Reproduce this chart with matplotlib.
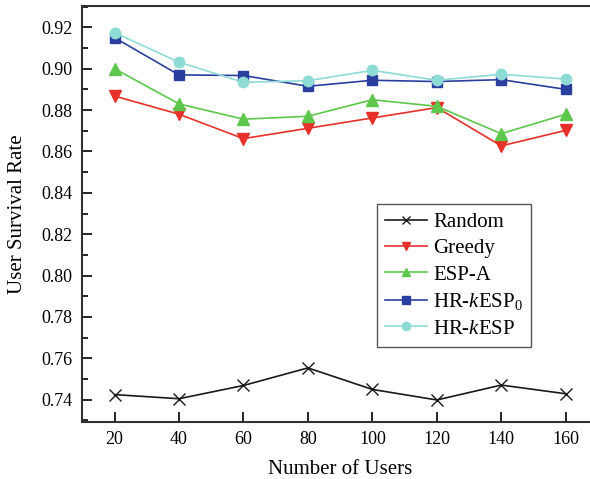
import matplotlib
matplotlib.use('Agg')
import matplotlib.pyplot as plt
from matplotlib.ticker import MultipleLocator

users = [20, 40, 60, 80, 100, 120, 140, 160]

random_rate = [0.7425, 0.7405, 0.7469, 0.7554, 0.7450, 0.7399, 0.7471, 0.7429]
greedy_rate = [0.8868, 0.8780, 0.8662, 0.8712, 0.8762, 0.8812, 0.8627, 0.8702]
esp_a_rate = [0.9000, 0.8830, 0.8756, 0.8770, 0.8850, 0.8818, 0.8686, 0.8780]
hr_kesp0_rate = [0.9150, 0.8970, 0.8967, 0.8915, 0.8944, 0.8938, 0.8947, 0.8900]
hr_kesp_rate = [0.9174, 0.9032, 0.8934, 0.8942, 0.8992, 0.8944, 0.8973, 0.8950]

plt.rcParams['font.family'] = ['Liberation Serif', 'DejaVu Serif']
plt.rcParams['mathtext.fontset'] = 'custom'
plt.rcParams['mathtext.rm'] = 'Liberation Serif'
plt.rcParams['mathtext.it'] = 'Liberation Serif:italic'

fig = plt.figure(figsize=(5.9, 4.79), dpi=100)
ax = fig.add_axes([82.3 / 590, 57.3 / 479, 515.7 / 590, 415.7 / 479])

ax.plot(users, random_rate, color='#1a1a1a', marker='x', markersize=8, lw=1.2, label='Random')
ax.plot(users, greedy_rate, color='#e5312a', marker='v', markersize=8, lw=1.2, label='Greedy')
ax.plot(users, esp_a_rate, color='#5cc74b', marker='^', markersize=8, lw=1.2, label='ESP-A')
ax.plot(users, hr_kesp0_rate, color='#2a3f9d', marker='s', markersize=7, lw=1.2,
        label=r'HR-$\mathit{k}$ESP$_0$')
ax.plot(users, hr_kesp_rate, color='#8edbd6', marker='o', markersize=7.5, lw=1.2,
        label=r'HR-$\mathit{k}$ESP')

ax.set_xlim(10, 170)
ax.set_ylim(0.7294, 0.9303)
ax.set_xticks(users)
ax.yaxis.set_major_locator(MultipleLocator(0.02))
ax.yaxis.set_minor_locator(MultipleLocator(0.01))
ax.yaxis.set_major_formatter(matplotlib.ticker.FormatStrFormatter('%.2f'))

ax.tick_params(axis='both', which='major', direction='in', length=7, width=1.2, labelsize=13, pad=7)
ax.tick_params(axis='y', which='minor', direction='in', length=4, width=1.2)
for side in ['left', 'bottom', 'top', 'right']:
    ax.spines[side].set_linewidth(1.5)
    ax.spines[side].set_color('#333333')

ax.set_xlabel('Number of Users', fontsize=15, labelpad=8)
ax.set_ylabel('User Survival Rate', fontsize=15, labelpad=10)

leg = ax.legend(loc='lower left', bbox_to_anchor=(0.571, 0.18), borderaxespad=0,
                fontsize=15, fancybox=False, edgecolor='#555555', framealpha=1,
                markerscale=0.8, handlelength=2.0, handletextpad=0.3,
                labelspacing=0.32, borderpad=0.4)
leg.get_frame().set_linewidth(1.0)

plt.savefig('out.png', dpi=100)
